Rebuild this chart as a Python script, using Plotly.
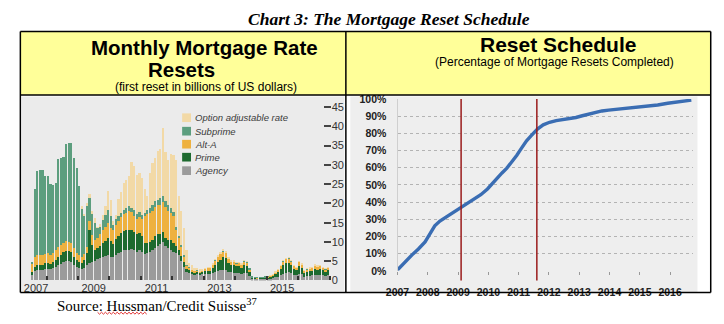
import pandas as pd
import plotly.graph_objects as go

W, H = 724, 324

# ---------------- Monthly mortgage rate resets (billions of US$) ----------------
months = pd.date_range("2007-06-15", "2016-12-15", freq="MS") + pd.Timedelta(days=14)

agency = [
    1.5, 2.5, 2.7, 2.8, 2.8, 3.0, 3.0,
    3.0, 3.2, 3.5, 4.0, 4.3, 4.8, 5.0, 5.0, 4.8, 4.0, 3.5, 3.2,
    3.0, 3.3, 4.0, 4.5, 4.8, 5.0, 5.5, 5.8, 6.0, 6.3, 6.5, 6.2,
    6.0, 6.5, 7.0, 7.5, 7.8, 8.0, 8.0, 8.2, 7.8, 7.5, 7.8, 7.5,
    6.8, 7.0, 7.5, 8.0, 8.5, 9.0, 9.5, 10.0, 9.0, 8.5, 8.0, 7.5,
    7.0, 6.5, 5.0, 3.5, 2.2, 2.0, 1.8, 1.5, 1.6, 1.5, 1.6, 1.8,
    1.6, 1.6, 1.9, 2.2, 2.4, 2.6, 2.8, 2.7, 2.3, 2.1, 2.0, 1.9,
    1.9, 1.7, 2.0, 1.9, 1.2, 0.35, 0.3, 0.28, 0.3, 0.32, 0.35, 0.38,
    0.45, 0.55, 0.8, 1.0, 1.4, 1.8, 2.0, 2.1, 1.9, 1.5, 1.3, 1.8,
    1.6, 1.0, 1.2, 1.25, 1.3, 1.5, 1.4, 1.45, 1.3, 1.1, 1.3, 1.35,
]
prime = [
    0.8, 1.0, 1.2, 1.3, 1.2, 1.4, 1.5,
    1.3, 1.5, 1.8, 2.0, 2.3, 2.5, 2.7, 2.6, 2.5, 2.0, 1.7, 1.6,
    1.6, 2.0, 3.0, 8.5, 4.5, 3.0, 2.8, 3.2, 3.8, 4.0, 4.5, 4.0,
    3.5, 4.2, 4.5, 4.8, 5.0, 5.0, 5.2, 5.0, 4.8, 4.5, 4.5, 4.0,
    3.0, 2.8, 2.5, 2.6, 3.0, 3.0, 2.5, 2.5, 2.0, 2.0, 2.5, 2.2,
    2.0, 1.5, 1.3, 1.2, 0.8, 0.7, 0.5, 0.5, 0.6, 0.4, 0.5, 0.6,
    0.9, 0.9, 1.3, 1.9, 2.4, 2.8, 3.2, 3.0, 2.3, 1.9, 1.9, 1.8,
    1.8, 1.6, 2.0, 1.9, 1.1, 0.3, 0.28, 0.22, 0.28, 0.3, 0.32, 0.36,
    0.45, 0.6, 0.95, 1.2, 1.6, 2.2, 2.4, 2.4, 2.1, 1.5, 1.3, 1.9,
    1.6, 0.9, 1.0, 1.1, 1.2, 1.5, 1.4, 1.45, 1.3, 1.2, 1.3, 1.4,
]
alt_a = [
    2.0, 2.5, 2.8, 2.6, 2.5, 2.5, 2.5,
    2.4, 2.5, 2.6, 2.6, 2.5, 2.5, 2.5, 2.4, 2.4, 2.3, 2.0, 1.8,
    1.6, 1.5, 1.8, 2.5, 2.5, 2.5, 2.8, 3.0, 3.3, 3.6, 3.8, 3.5,
    3.5, 3.8, 4.0, 4.2, 4.5, 4.5, 4.8, 4.5, 4.2, 4.0, 4.2, 4.5,
    7.0, 7.5, 7.5, 7.5, 7.5, 7.5, 7.5, 7.8, 8.0, 7.5, 7.0, 7.0,
    4.0, 3.0, 2.5, 1.5, 0.8, 0.6, 0.4, 0.4, 0.4, 0.3, 0.4, 0.5,
    0.7, 0.7, 0.9, 1.1, 1.2, 1.4, 1.5, 1.4, 1.0, 0.8, 0.9, 0.7,
    0.8, 0.8, 0.9, 0.85, 0.55, 0.1, 0.08, 0.07, 0.08, 0.1, 0.1, 0.12,
    0.15, 0.2, 0.3, 0.45, 0.7, 0.9, 1.1, 1.2, 0.9, 0.7, 0.65, 1.0,
    0.9, 0.55, 0.65, 0.7, 0.75, 0.85, 0.75, 0.8, 0.65, 0.55, 0.65, 0.7,
]
subprime = [
    0.3, 17.7, 21.6, 22.0, 22.2, 20.3, 20.0,
    18.3, 17.6, 17.5, 22.8, 22.6, 22.2, 25.2, 25.6, 26.1, 23.4, 22.0, 18.0,
    12.5, 10.0, 10.5, 6.0, 5.5, 4.5, 2.5, 2.0, 2.5, 3.0, 3.5, 3.0,
    1.5, 1.5, 1.2, 1.0, 1.0, 1.2, 1.3, 1.2, 1.5, 1.3, 1.2, 1.0,
    0.8, 1.0, 1.2, 1.5, 1.5, 1.5, 1.8, 1.5, 1.5, 1.5, 1.2, 1.0,
    0.8, 0.5, 0.4, 0.3, 0.2, 0.2, 0.1, 0.1, 0.1, 0.1, 0.1, 0.1,
    0.05, 0.05, 0.05, 0.05, 0.05, 0.05, 0.05, 0.05, 0.05, 0.05, 0.05, 0.05,
    0.05, 0.05, 0.05, 0.05, 0.05, 0.05, 0.04, 0.03, 0.04, 0.03, 0.03, 0.04,
    0.03, 0.03, 0.03, 0.03, 0.03, 0.05, 0.05, 0.05, 0.05, 0.03, 0.03, 0.03,
    0.05, 0.05, 0.05, 0.05, 0.05, 0.05, 0.05, 0.05, 0.05, 0.05, 0.05, 0.05,
]
option_arm = [
    0.0, 0.0, 0.0, 0.0, 0.0, 0.0, 0.0,
    0.0, 0.0, 0.0, 0.0, 0.0, 0.0, 0.0, 0.0, 0.0, 0.0, 0.0, 0.0,
    0.5, 0.3, 0.7, 1.0, 0.6, 1.25, 0.15, 0.6, 1.4, 2.3, 5.0, 4.1,
    0.9, 1.0, 4.5, 5.5, 7.1, 7.5, 7.8, 11.9, 11.3, 10.2, 10.2, 9.7,
    6.2, 3.7, 9.2, 10.8, 11.2, 12.7, 12.9, 17.8, 12.8, 11.7, 14.2, 14.8,
    17.4, 10.5, 8.7, 7.2, 3.9, 1.1, 1.2, 0.8, 0.3, 0.6, 0.2, 0.1,
    0.05, 0.05, 0.05, 0.15, 0.2, 0.25, 0.35, 0.35, 0.15, 0.15, 0.15, 0.15,
    0.05, 0.05, 0.05, 0.05, 0.0, 0.0, 0.0, 0.0, 0.0, 0.0, 0.0, 0.0,
    0.02, 0.02, 0.02, 0.02, 0.02, 0.05, 0.05, 0.05, 0.05, 0.02, 0.02, 0.02,
    0.05, 0.05, 0.05, 0.05, 0.05, 0.05, 0.05, 0.05, 0.05, 0.05, 0.05, 0.05,
]

reset_series = [
    ("Agency", agency, "#9b9b9b"),
    ("Prime", prime, "#1d6a2f"),
    ("Alt-A", alt_a, "#eeb13f"),
    ("Subprime", subprime, "#5c9e7e"),
    ("Option adjustable rate", option_arm, "#f2d9a6"),
]
left_year_labels = ["2007", "2009", "2011", "2013", "2015"]
left_year_pos = ["2007-09-01", "2009-07-01", "2011-07-01", "2013-07-01", "2015-07-01"]
left_ticks = [0, 5, 10, 15, 20, 25, 30, 35, 40, 45]

# ---------------- Reset schedule (% of resets completed) ----------------
sched_year = [
    2007.0, 2007.26, 2007.48, 2007.69, 2007.91, 2008.07, 2008.23, 2008.4, 2008.56,
    2008.77, 2008.99, 2009.1, 2009.32, 2009.53, 2009.75, 2009.97, 2010.13, 2010.29,
    2010.45, 2010.61, 2010.78, 2010.94, 2011.1, 2011.26, 2011.43, 2011.62, 2011.81,
    2012.02, 2012.24, 2012.45, 2012.67, 2012.89, 2013.1, 2013.32, 2013.54, 2013.75,
    2013.97, 2014.29, 2014.62, 2014.94, 2015.27, 2015.59, 2015.92, 2016.24, 2016.46,
    2016.7,
]
sched_pct = [
    0.5, 5.6, 9.3, 12.7, 16.8, 21.5, 26.2, 29.0, 30.8,
    33.6, 36.1, 37.4, 39.3, 42.0, 44.3, 47.7, 51.0, 54.2,
    57.0, 59.8, 63.6, 67.3, 71.6, 75.7, 79.0, 82.6, 85.0,
    86.5, 87.5, 88.0, 88.6, 89.3, 90.3, 91.4, 92.5, 93.1,
    93.6, 94.2, 94.6, 95.1, 95.9, 96.6, 97.6, 98.3, 98.9,
    99.4,
]
sched_years = list(range(2007, 2017))
sched_pct_ticks = list(range(0, 101, 10))
marker_years = [2009.1, 2011.6]


def px(x):
    return x / W


def py(y):
    return 1 - y / H


fig = go.Figure()

for name, vals, color in reset_series:
    fig.add_trace(go.Bar(
        x=months, y=vals, name=name, marker=dict(color=color, line=dict(width=0)),
        xaxis="x", yaxis="y", showlegend=False,
    ))

fig.add_trace(go.Scatter(
    x=sched_year, y=sched_pct, mode="lines", xaxis="x2", yaxis="y2",
    line=dict(color="#3a6db3", width=3.4), showlegend=False,
))

axis_font = dict(family="Liberation Sans, Arial", size=11, color="#333333")
bold_font = dict(family="Liberation Sans, Arial", size=10.5, color="#222222", weight="bold")

fig.update_layout(
    width=W, height=H,
    margin=dict(l=0, r=0, t=0, b=0),
    paper_bgcolor="white", plot_bgcolor="rgba(0,0,0,0)",
    barmode="stack", bargap=0.08,
    xaxis=dict(
        domain=[px(16), px(324)], anchor="y", type="date",
        range=["2007-05-27", "2017-01-14"],
        tickvals=left_year_pos, ticktext=left_year_labels, ticks="",
        tickfont=axis_font, showgrid=False, zeroline=False, showline=False,
        minor=dict(ticks="inside", ticklen=4, tickcolor="#333333", tickwidth=1.5,
                   dtick="M12", tick0="2007-01-01", showgrid=False),
    ),
    yaxis=dict(
        domain=[py(285), py(97)], anchor="x", side="right", range=[0, 47],
        tickvals=left_ticks, ticks="inside", ticklen=7, tickwidth=1.5,
        tickcolor="#444444", tickfont=axis_font, showgrid=False, zeroline=False,
    ),
    yaxis3=dict(
        overlaying="y", anchor="x", side="left", matches="y",
        tickvals=left_ticks[1:], ticks="inside", ticklen=7, tickwidth=1.5,
        tickcolor="#444444", showticklabels=False, showgrid=False, zeroline=False,
    ),
    xaxis2=dict(
        domain=[px(392), px(692)], anchor="y2", range=[2007, 2016.74],
        tickvals=sched_years, ticks="outside", ticklen=3, tickcolor="#999999",
        ticklabelstandoff=9, tickfont=bold_font, showgrid=False, zeroline=False,
    ),
    yaxis2=dict(
        domain=[py(275), py(96.7)], anchor="x2", range=[0, 100],
        tickvals=sched_pct_ticks, ticktext=[f"{v}%" for v in sched_pct_ticks],
        ticks="outside", ticklen=8, tickcolor="rgba(0,0,0,0)", tickfont=bold_font,
        showgrid=True, gridcolor="#b3b3b3", griddash="dot", gridwidth=1,
        zeroline=False, showline=True, linecolor="#cfcfcf", linewidth=1,
    ),
)

shapes = []
# panel backgrounds
shapes.append(dict(type="rect", xref="paper", yref="paper", layer="below",
                   x0=px(8.5), x1=px(710.5), y0=py(92.5), y1=py(26.5),
                   fillcolor="#ffff99", line=dict(width=0)))
shapes.append(dict(type="rect", xref="paper", yref="paper", layer="below",
                   x0=px(10), x1=px(338), y0=py(296), y1=py(94),
                   fillcolor="#ebebeb", line=dict(width=0)))
shapes.append(dict(type="rect", xref="paper", yref="paper", layer="below",
                   x0=px(344), x1=px(697), y0=py(297), y1=py(94),
                   fillcolor="#eeeeee", line=dict(width=0)))
# table rules
rule = dict(color="black", width=1.5)
for x0, y0, x1, y1 in [(8.5, 26.5, 710.5, 26.5), (8.5, 92.5, 710.5, 92.5),
                       (8.5, 297.5, 710.5, 297.5), (8.5, 26.5, 8.5, 297.5),
                       (710.5, 26.5, 710.5, 297.5), (339.5, 26.5, 339.5, 297.5)]:
    shapes.append(dict(type="line", xref="paper", yref="paper",
                       x0=px(x0), y0=py(y0), x1=px(x1), y1=py(y1), line=rule))
# reference lines on the schedule
for yr in marker_years:
    shapes.append(dict(type="line", xref="x2", yref="paper", x0=yr, x1=yr,
                       y0=py(285), y1=py(96.5), line=dict(color="#9a1b1b", width=1.5)))

# legend swatches
legend_rows = [("Option adjustable rate", "#f2d9a6", 116), ("Subprime", "#5c9e7e", 130),
               ("Alt-A", "#eeb13f", 143.5), ("Prime", "#1d6a2f", 157), ("Agency", "#9b9b9b", 171)]
annotations = []
for label, color, yc in legend_rows:
    shapes.append(dict(type="rect", xref="paper", yref="paper",
                       x0=px(173), x1=px(182), y0=py(yc + 4.5), y1=py(yc - 4.5),
                       fillcolor=color, line=dict(width=0)))
    annotations.append(dict(x=px(184), y=py(yc), xref="paper", yref="paper",
                            xanchor="left", yanchor="middle", showarrow=False,
                            text=f"<i>{label}</i>",
                            font=dict(family="Liberation Sans, Arial", size=9.5, color="#3a3a3a")))

# spell-check squiggle under the author name
sq_x0, sq_x1, sq_y = 87, 138, 319
pts = []
xx = sq_x0
i = 0
while xx <= sq_x1:
    yy = sq_y + (1 if i % 2 else -1)
    pts.append(f"{px(xx):.5f},{py(yy):.5f}")
    xx += 2
    i += 1
shapes.append(dict(type="path", xref="paper", yref="paper",
                   path="M" + " L".join(pts), line=dict(color="#e03030", width=1)))

serif = "Liberation Serif, Times New Roman"
sans = "Liberation Sans, Arial"
annotations += [
    dict(x=px(383), y=py(14), text="<b><i>Chart 3: The Mortgage Reset Schedule</i></b>",
         font=dict(family=serif, size=17.5, color="black")),
    dict(x=px(196), y=py(43), text="<b>Monthly Mortgage Rate</b>",
         font=dict(family=sans, size=20.5, color="black")),
    dict(x=px(172), y=py(66), text="<b>Resets</b>",
         font=dict(family=sans, size=20.5, color="black")),
    dict(x=px(197), y=py(84), text="(first reset in billions of US dollars)",
         font=dict(family="Liberation Sans Narrow, Arial Narrow, " + sans, size=12, color="black")),
    dict(x=px(555), y=py(40), text="<b>Reset Schedule</b>",
         font=dict(family=sans, size=21, color="black")),
    dict(x=px(552), y=py(58), text="(Percentage of Mortgage Resets Completed)",
         font=dict(family=sans, size=12, color="black")),
    dict(x=px(44), y=py(311), xanchor="left",
         text="Source: Hussman/Credit Suisse<sup>37</sup>",
         font=dict(family=serif, size=15, color="black")),
]
for a in annotations:
    a.setdefault("xref", "paper")
    a.setdefault("yref", "paper")
    a.setdefault("xanchor", "center")
    a.setdefault("yanchor", "middle")
    a.setdefault("showarrow", False)

fig.update_layout(shapes=shapes, annotations=annotations)
fig.write_html("out.html")
